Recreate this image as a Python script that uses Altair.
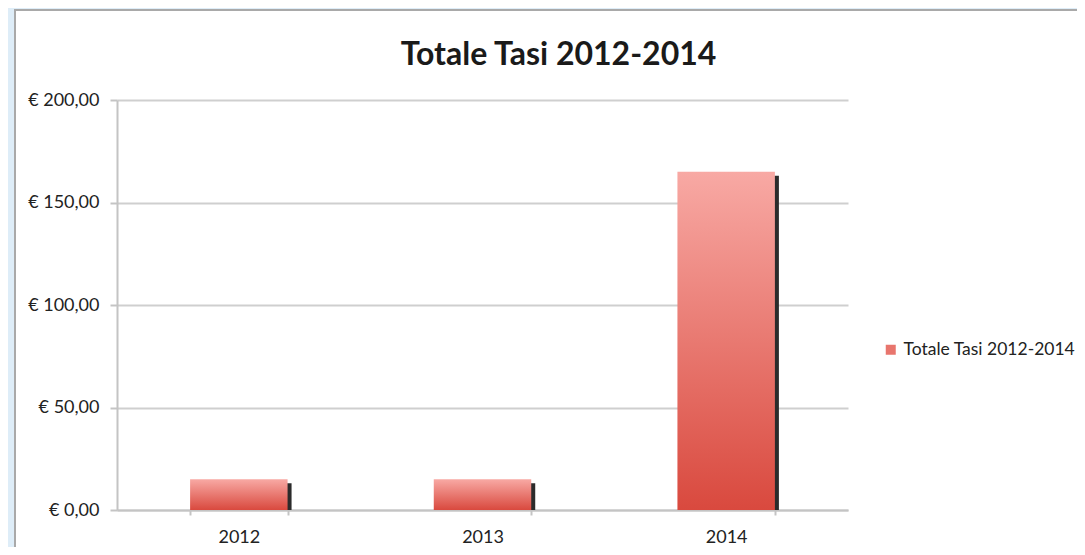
import altair as alt
import pandas as pd

years = ["2012", "2013", "2014"]
values = [15, 15, 165]
series_name = "Totale Tasi 2012-2014"
y_ticks = [0, 50, 100, 150, 200]

df = pd.DataFrame({"anno": years, "totale": values, "serie": [series_name] * len(years)})

FONT = "Lato"

x_enc = alt.X(
    "anno:N",
    sort=years,
    title=None,
    scale=alt.Scale(paddingInner=0.6, paddingOuter=0.3),
    axis=alt.Axis(
        labelAngle=0, tickBand="extent", domainColor="#c4c4c4", domainWidth=2,
        tickColor="#c4c4c4", tickSize=5, tickWidth=2, labelPadding=13,
        labelFont=FONT, labelFontSize=18, labelColor="#222222", grid=False,
    ),
)
y_enc = alt.Y(
    "totale:Q",
    title=None,
    stack=None,
    scale=alt.Scale(domain=[0, 200], nice=False),
    axis=alt.Axis(
        values=y_ticks,
        labelExpr="'€ ' + replace(format(datum.value, '.2f'), '.', ',')",
        domainColor="#c4c4c4", domainWidth=2, tickColor="#c4c4c4", tickSize=7, tickWidth=2,
        labelPadding=11, labelFont=FONT, labelFontSize=18, labelColor="#222222",
        grid=True, gridColor="#cfcfcf", gridWidth=2,
    ),
)

one = alt.Data(values=[{"a": 1}])
strip_left = alt.Chart(one).mark_rect(fill="#deedf8").encode(
    x=alt.value(-120), x2=alt.value(-102), y=alt.value(-110), y2=alt.value(480)
)
strip_top = alt.Chart(one).mark_rect(fill="#deedf8").encode(
    x=alt.value(-120), x2=alt.value(1100), y=alt.value(-110), y2=alt.value(-90)
)
frame = alt.Chart(one).mark_rect(fillOpacity=0, stroke="#a9a9a9", strokeWidth=2).encode(
    x=alt.value(-102), x2=alt.value(1100), y=alt.value(-90), y2=alt.value(480)
)

base = alt.Chart(df)

shadow = base.mark_bar(color="#2b2b2b", xOffset=4, yOffset=4, y2Offset=0).encode(
    x=x_enc, y=y_enc, y2=alt.datum(0)
)

grad = alt.Gradient(
    gradient="linear",
    stops=[alt.GradientStop(color="#f8a9a4", offset=0), alt.GradientStop(color="#d9493e", offset=1)],
    x1=0, x2=0, y1=0, y2=1,
)
bars = base.mark_bar(color=grad).encode(x=x_enc, y=y_enc)

legend_layer = base.mark_square(opacity=0).encode(
    x=x_enc, y=y_enc,
    color=alt.Color(
        "serie:N",
        scale=alt.Scale(range=["#e8756d"]),
        legend=alt.Legend(
            title=None, orient="none", legendX=765, legendY=241, symbolType="square",
            symbolSize=100, symbolOpacity=1, symbolStrokeWidth=0, labelLimit=300,
            labelFont=FONT, labelFontSize=17.5, labelColor="#222222", labelOffset=4,
        ),
    ),
)

chart = alt.layer(strip_left, strip_top, frame, shadow, bars, legend_layer).properties(
    width=731,
    height=410,
    title=alt.TitleParams(
        text="Totale Tasi 2012-2014", font=FONT, fontSize=32, fontWeight="bold",
        color="#1a1a1a", anchor="middle", frame="group", dx=76, dy=82, offset=0,
    ),
    autosize=alt.AutoSizeParams(type="none"),
    padding={"left": 109, "top": 92, "right": 229, "bottom": 37},
    background="white",
).configure_view(stroke=None)

chart.save("out.html", embed_options={"renderer": "svg", "actions": False})
